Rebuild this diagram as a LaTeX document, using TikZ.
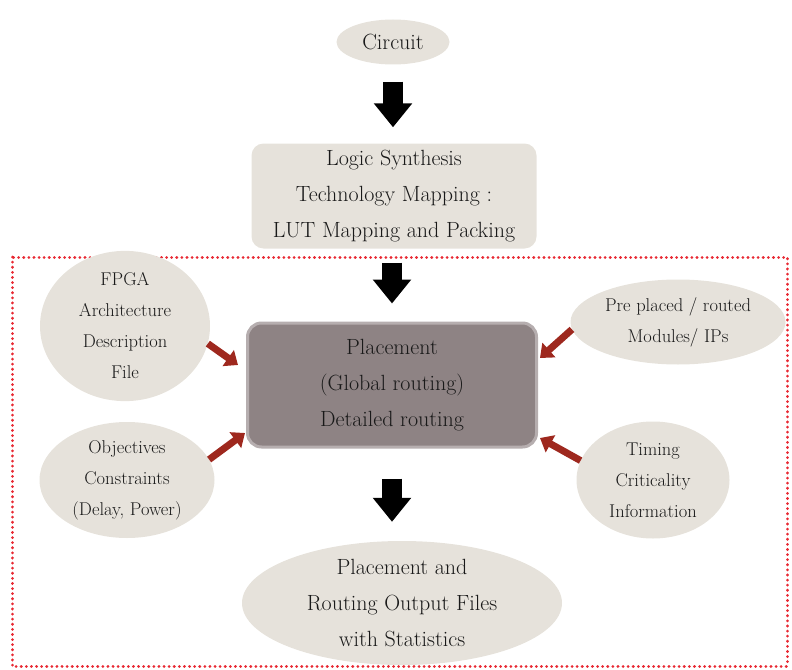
\documentclass[tikz,border=0pt]{standalone}
\usetikzlibrary{arrows.meta,shapes.geometric}
\definecolor{eeeadd}{rgb}{0.902,0.886,0.859}
\definecolor{mm8888}{rgb}{0.557,0.514,0.518}
\definecolor{aa2211}{rgb}{0.62,0.157,0.118}
\definecolor{ee2233}{rgb}{0.91,0.16,0.2}
\definecolor{tttttt}{rgb}{0.1,0.1,0.1}

\begin{document}
\begin{tikzpicture}[line cap=round,line join=round,x=1pt,y=-1pt,
	bignode/.style={align=center,text=tttttt,inner sep=0pt,font=\fontsize{22}{36}\selectfont},
	smallnode/.style={ellipse,fill=eeeadd,align=center,text=tttttt,inner sep=0pt,font=\fontsize{18.5}{31}\selectfont},
	downarrow/.style={line cap=butt,line width=20pt,-{Triangle[width=37pt,length=24pt]}},
	inarrow/.style={line cap=butt,line width=7pt,color=aa2211,-{Triangle[width=19pt,length=12pt]}}]
		\useasboundingbox (0,0) rectangle (792,669);
		\draw [color=ee2233,line width=3pt,dash pattern=on 0.1pt off 5pt] (12,257) rectangle (787,666);
		% main flow
		\node [bignode,ellipse,fill=eeeadd,minimum width=113pt,minimum height=45pt,font=\fontsize{22}{30}\selectfont] (circuit) at (393,42) {Circuit};
		\node [bignode,rectangle,rounded corners=12pt,fill=eeeadd,minimum width=285pt,minimum height=105pt] (logic) at (394,196) {Logic Synthesis\\Technology Mapping :\\LUT Mapping and Packing};
		\node [bignode,rectangle,rounded corners=14pt,fill=mm8888,draw=mm8888!65!white,line width=3pt,minimum width=289pt,minimum height=124pt] (place) at (392,385) {Placement\\(Global routing)\\Detailed routing};
		\node [bignode,ellipse,fill=eeeadd,minimum width=320pt,minimum height=124pt] (output) at (402,603) {Placement and\\Routing Output Files\\with Statistics};
		\draw [downarrow,shorten <=17pt,shorten >=16pt] (circuit.south) -- (circuit.south |- logic.north);
		\draw [downarrow,shorten <=14pt,shorten >=18pt] (place.north |- logic.south) -- (place.north);
		\draw [downarrow,shorten <=30pt,shorten >=19pt] (place.south) -- (place.south |- output.north);
		% inputs
		\node [smallnode,minimum width=170pt,minimum height=118pt] (fpga) at (125,326) {FPGA\\Architecture\\Description\\File};
		\node [smallnode,minimum width=175pt,minimum height=116pt] (objectives) at (127,480) {Objectives\\Constraints\\(Delay, Power)};
		\node [smallnode,minimum width=215pt,minimum height=85pt] (preplaced) at (678,322) {Pre placed / routed\\Modules/ IPs};
		\node [smallnode,minimum width=153pt,minimum height=117pt] (timing) at (653,480) {Timing\\Criticality\\Information};
		\coordinate (fpgain) at (238,365);
		\coordinate (objin) at (245,433);
		\coordinate (prein) at (540,358);
		\coordinate (timin) at (540,438);
		\draw [inarrow] (fpga.-12) -- (fpgain);
		\draw [inarrow] (objectives.14) -- (objin);
		\draw [inarrow] (preplaced.184) -- (prein);
		\draw [inarrow] (timing.165) -- (timin);
	\end{tikzpicture}
\end{document}
